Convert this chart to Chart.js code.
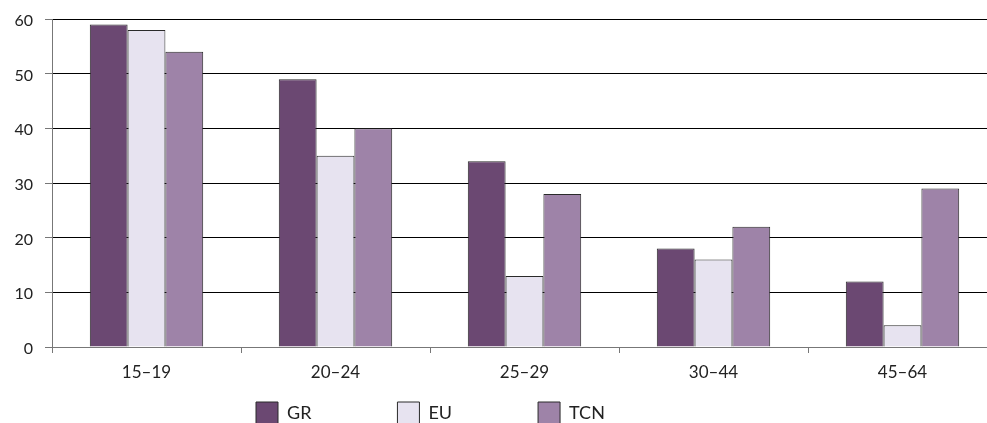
<!DOCTYPE html>
<html>
<head>
<meta charset="utf-8">
<script src="https://cdn.jsdelivr.net/npm/chart.js@4/dist/chart.umd.min.js"></script>
<style>
  html, body { margin: 0; padding: 0; background: #fff; overflow: hidden; }
  #wrap { width: 1000px; height: 423px; position: relative; }
</style>
</head>
<body>
<div id="wrap"><canvas id="c" width="1000" height="423"></canvas></div>
<script>
const categories = ['15–19', '20–24', '25–29', '30–44', '45–64'];
const seriesNames = ['GR', 'EU', 'TCN'];
const grValues = [59, 49, 34, 18, 12];
const euValues = [58, 35, 13, 16, 4];
const tcnValues = [54, 40, 28, 22, 29];
const yTicks = [0, 10, 20, 30, 40, 50, 60];

const colors = ['#6b4872', '#e7e3f0', '#9e83a8'];
const FONT = 'Lato, "Open Sans", sans-serif';

const legendShift = {
  id: 'legendShift',
  afterLayout(chart) {
    const lg = chart.legend;
    const pad = lg.options.labels.padding;
    lg.left = 256 - pad;
    lg.top = 402 - pad;
  }
};

new Chart(document.getElementById('c'), {
  type: 'bar',
  data: {
    labels: categories,
    datasets: [
      { label: seriesNames[0], data: grValues, backgroundColor: colors[0] },
      { label: seriesNames[1], data: euValues, backgroundColor: colors[1] },
      { label: seriesNames[2], data: tcnValues, backgroundColor: colors[2] }
    ].map(d => Object.assign(d, {
      borderColor: '#2a2a2a',
      borderWidth: 1,
      borderSkipped: 'start',
      categoryPercentage: 0.6,
      barPercentage: 1.0
    }))
  },
  options: {
    responsive: false,
    animation: false,
    devicePixelRatio: 1,
    layout: { padding: { top: 19, right: 3, left: 0, bottom: 0 } },
    plugins: {
      tooltip: { enabled: false },
      title: { display: false },
      legend: {
        position: 'bottom',
        align: 'start',
        maxHeight: 40,
        labels: {
          boxWidth: 22,
          boxHeight: 22,
          padding: 86,
          color: '#222',
          font: { family: FONT, size: 18 }
        }
      }
    },
    scales: {
      x: {
        offset: true,
        grid: {
          display: true,
          drawOnChartArea: false,
          offset: true,
          tickLength: 6,
          tickColor: '#777',
          lineWidth: 1
        },
        border: { display: true, color: '#777', width: 1 },
        ticks: {
          color: '#222',
          padding: 9,
          font: { family: FONT, size: 17 },
          maxRotation: 0
        },
        afterFit(scale) { scale.height = 36; }
      },
      y: {
        min: 0,
        max: 60,
        afterBuildTicks(scale) { scale.ticks = yTicks.map(v => ({ value: v })); },
        grid: {
          color: '#000',
          lineWidth: 1,
          tickLength: 7,
          tickColor: '#777',
          drawTicks: true
        },
        border: { display: true, color: '#777', width: 1 },
        ticks: {
          color: '#222',
          padding: 12,
          labelOffset: 2,
          font: { family: FONT, size: 16 }
        },
        afterFit(scale) {
          scale.width = 52;
          scale.paddingTop = 0;
          scale.paddingBottom = 0;
        }
      }
    }
  },
  plugins: [legendShift]
});
</script>
</body>
</html>
